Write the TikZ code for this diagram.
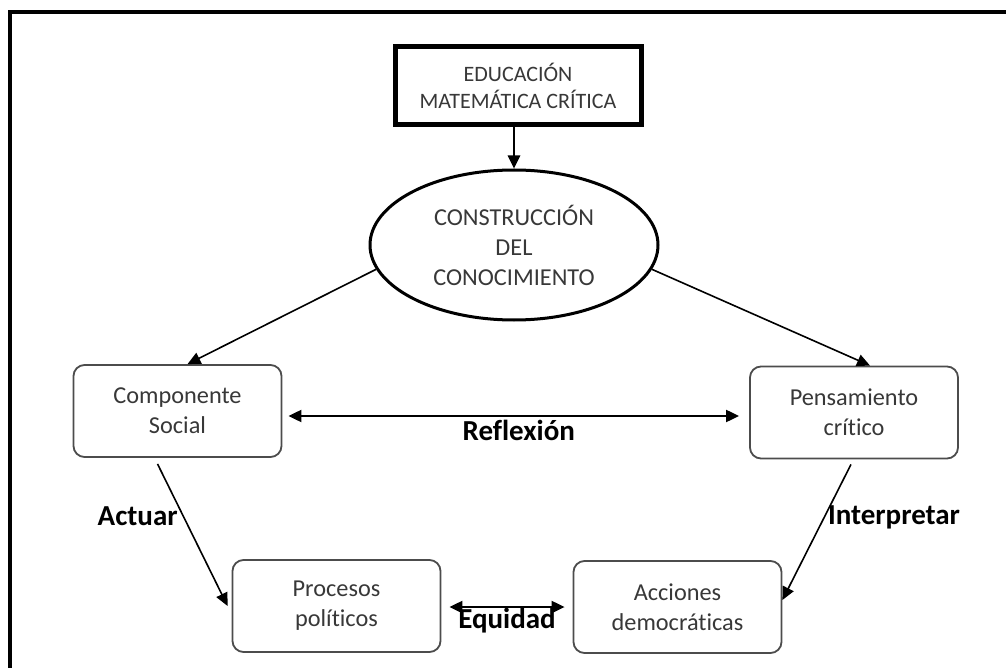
\documentclass[tikz,border=0pt]{standalone}
\usepackage{fontspec}
\setmainfont{Carlito}[Ligatures=NoCommon]
\usetikzlibrary{arrows.meta,shapes.geometric}
\begin{document}
\begin{tikzpicture}[x=1pt,y=-1pt,
  boxtext/.style={text=black!78, font=\fontsize{24.3}{30}\selectfont, align=center},
  roundbox/.style={boxtext, draw=black!70, line width=1.8pt, rounded corners=11pt,
    minimum width=208pt, minimum height=92pt, inner sep=0pt},
  lbl/.style={font=\fontsize{29}{32}\selectfont\bfseries, text=black},
  arr/.style={line width=1.6pt, -{Triangle[length=13pt,width=12pt]}},
  darr/.style={line width=2pt, {Triangle[length=13pt,width=12pt]}-{Triangle[length=13pt,width=12pt]}}
]
\useasboundingbox (0,0) rectangle (1006,668);
% outer frame (only top and left edges visible)
\draw[line width=4pt] (9.5,668) -- (9.5,12.5) -- (1006,12.5);

\node[draw, line width=5pt, fill=white, minimum width=246pt, minimum height=78pt,
  inner sep=0pt, text=black!78, font=\fontsize{22}{27}\selectfont, align=center]
  (edu) at (518,86) {EDUCACIÓN\\MATEMÁTICA CRÍTICA};

\node[ellipse, draw, line width=3pt, minimum width=288pt, minimum height=150pt,
  inner sep=0pt, boxtext] (cons) at (514,245) {CONSTRUCCIÓN\\DEL\\CONOCIMIENTO};

\node[roundbox] (comp) at (177.5,411) {Componente\\Social};
\node[roundbox] (pens) at (854,412.5) {Pensamiento\\crítico};
\node[roundbox] (proc) at (336.5,606) {Procesos\\políticos};
\node[roundbox] (acc) at (677.5,607) {Acciones\\democráticas};

\draw[arr, line width=2.6pt] (edu.south -| cons.north) -- (cons.north);
\draw[arr] (cons.190) -- ([xshift=10pt]comp.north);
\draw[arr] (cons.350) -- ([xshift=16pt]pens.north);

\draw[darr] ([xshift=6pt,yshift=-5pt]comp.east) -- ([xshift=-10pt,yshift=-3.5pt]pens.west)
  node[midway, below, inner sep=3pt, lbl, xshift=5pt] (refl) {Reflexión};

\draw[arr] ([xshift=-20pt,yshift=-6pt]comp.south) -- ([xshift=-4pt]proc.west)
  node[pos=0.37, anchor=east, inner sep=5pt, lbl] (act) {Actuar};

\draw[arr] ([xshift=-3pt,yshift=-5pt]pens.south) -- ([yshift=7pt]acc.east)
  node[pos=0.39, anchor=west, inner sep=3pt, lbl] (interp) {Interpretar};

\draw[darr] ([xshift=8pt,yshift=-1pt]proc.east) -- ([xshift=-8pt]acc.west)
  node[midway, below, inner sep=0pt, lbl] (equi) {Equidad};
\end{tikzpicture}
\end{document}
